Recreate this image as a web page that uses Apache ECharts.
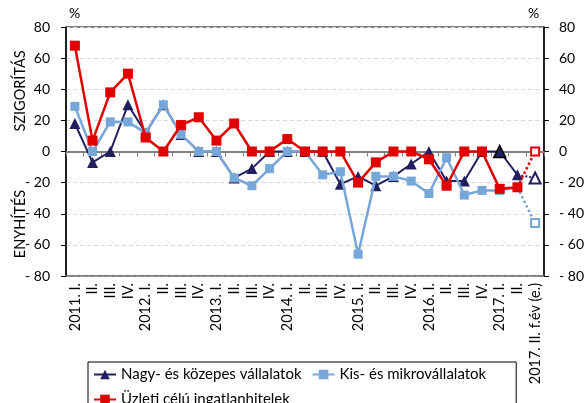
<!DOCTYPE html>
<html>
<head>
<meta charset="utf-8">
<script src="https://cdn.jsdelivr.net/npm/echarts@6/dist/echarts.min.js"></script>
<style>
html,body{margin:0;padding:0;background:#fff;}
#chart{width:587px;height:403px;}
</style>
</head>
<body>
<div id="chart"></div>
<script>
const categories = ['2011. I.', 'II.', 'III.', 'IV.', '2012. I.', 'II.', 'III.', 'IV.', '2013. I.', 'II.', 'III.', 'IV.', '2014. I.', 'II.', 'III.', 'IV.', '2015. I.', 'II.', 'III.', 'IV.', '2016. I.', 'II.', 'III.', 'IV.', '2017. I.', 'II.', '2017. II. f.év (e.)'];
const seriesNames = ['Nagy- és közepes vállalatok', 'Kis- és mikrovállalatok', 'Üzleti célú ingatlanhitelek'];
const navy = [18, -7, 0, 30, 12, 30, 11, 0, 0, -17, -11, 0, 0, 0, 0, -21, -16, -22, -16, -8, 0, -19, -19, 0, 0, -15];
const lightBlue = [29, 0, 19, 19, 12, 30, 11, 0, 0, -17, -22, -11, 0, 0, -15, -13, -66, -16, -16, -19, -27, -4, -28, -25, -25, -23];
const red = [68, 7, 38, 50, 9, 0, 17, 22, 7, 18, 0, 0, 8, 0, 0, 0, -20, -7, 0, 0, -5, -22, 0, 0, -24, -23];
const forecast = { navy: -17, lightBlue: -46, red: 0 };
const yTicks = { min: -80, max: 80, interval: 20 };

const FONT = 'Lato';
const C_NAVY = '#221f5f', C_LB = '#77a6d9', C_RED = '#e00000';

function fcData(arr, f) {
  const d = categories.map(() => null);
  d[arr.length - 1] = { value: arr[arr.length - 1], symbol: 'none' };
  d[arr.length] = f;
  return d;
}
function yLabel(v) { return v < 0 ? '- ' + Math.abs(v) : String(v); }

const chart = echarts.init(document.getElementById('chart'));
const navyData = navy.map((v, i) => i === 24 ? { value: v, itemStyle: { borderColor: '#000', borderWidth: 1.5 }, symbolSize: 12 } : v);

chart.setOption({
  animation: false,
  textStyle: { fontFamily: FONT },
  grid: { left: 66, right: 41, top: 27, height: 249, show: true, borderColor: '#000', borderWidth: 1, backgroundColor: 'transparent' },
  graphic: [
    { type: 'text', left: 69, top: 6, style: { text: '%', fontFamily: FONT, fontSize: 14, fill: '#000' } },
    { type: 'text', left: 528, top: 6, style: { text: '%', fontFamily: FONT, fontSize: 14, fill: '#000' } },
    { type: 'text', x: 20, y: 91, rotation: Math.PI / 2, style: { text: 'SZIGORÍTÁS', fontFamily: FONT, fontSize: 14.5, fill: '#000', align: 'center', verticalAlign: 'middle' } },
    { type: 'text', x: 20, y: 224, rotation: Math.PI / 2, style: { text: 'ENYHÍTÉS', fontFamily: FONT, fontSize: 14.5, fill: '#000', align: 'center', verticalAlign: 'middle' } }
  ],
  legend: {
    data: seriesNames,
    left: 88, top: 362, width: 420,
    padding: [5, 30, 5, 5],
    itemGap: 10, itemWidth: 22, itemHeight: 12,
    borderColor: '#000', borderWidth: 1,
    textStyle: { fontFamily: FONT, fontSize: 15, color: '#000' }
  },
  xAxis: [
    {
      type: 'category', data: categories, position: 'bottom', boundaryGap: true,
      axisLine: { onZero: false, lineStyle: { color: '#808080', width: 1.5 } },
      axisTick: { show: false },
      axisLabel: { interval: 0, rotate: 90, margin: 7, fontFamily: FONT, fontSize: 14.5, color: '#000' }
    },
    {
      type: 'category', data: categories, position: 'top', boundaryGap: true,
      axisLine: { onZero: true, onZeroAxisIndex: 0, lineStyle: { color: '#808080', width: 2 } },
      axisTick: { show: true, inside: true, length: 5, interval: 0, lineStyle: { color: '#808080', width: 1 } },
      axisLabel: { show: false }
    }
  ],
  yAxis: [
    {
      type: 'value', position: 'left', min: yTicks.min, max: yTicks.max, interval: yTicks.interval,
      axisLine: { show: true, lineStyle: { color: '#000', width: 1.5 } },
      axisTick: { show: true, length: 5, lineStyle: { color: '#000' } },
      axisLabel: { margin: 16, formatter: yLabel, fontFamily: FONT, fontSize: 14, color: '#000' },
      splitLine: { show: true, lineStyle: { color: '#d9d9d9', type: [4, 3], width: 1 } }
    },
    {
      type: 'value', position: 'right', min: yTicks.min, max: yTicks.max, interval: yTicks.interval,
      axisLine: { show: true, lineStyle: { color: '#000', width: 1.5 } },
      axisTick: { show: true, length: 5, lineStyle: { color: '#000' } },
      axisLabel: { margin: 15, formatter: yLabel, fontFamily: FONT, fontSize: 14, color: '#000' },
      splitLine: { show: false }
    }
  ],
  series: [
    { name: seriesNames[0], type: 'line', data: navyData, symbol: 'triangle', symbolSize: 11,
      itemStyle: { color: C_NAVY }, lineStyle: { color: C_NAVY, width: 2 }, z: 2 },
    { name: seriesNames[1], type: 'line', data: lightBlue, symbol: 'rect', symbolSize: 9,
      itemStyle: { color: C_LB }, lineStyle: { color: C_LB, width: 2.5 }, z: 3 },
    { name: seriesNames[2], type: 'line', data: red, symbol: 'rect', symbolSize: 10,
      itemStyle: { color: C_RED }, lineStyle: { color: C_RED, width: 2.5 }, z: 4 },
    { name: 'navy-f', type: 'line', data: fcData(navy, forecast.navy), connectNulls: false, symbol: 'triangle', symbolSize: 11,
      itemStyle: { color: '#fff', borderColor: C_NAVY, borderWidth: 2 }, lineStyle: { color: C_NAVY, width: 2, type: 'dotted' }, z: 2 },
    { name: 'lb-f', type: 'line', data: fcData(lightBlue, forecast.lightBlue), symbol: 'rect', symbolSize: 8,
      itemStyle: { color: '#fff', borderColor: C_LB, borderWidth: 2 }, lineStyle: { color: C_LB, width: 2.5, type: 'dotted' }, z: 3 },
    { name: 'red-f', type: 'line', data: fcData(red, forecast.red), symbol: 'rect', symbolSize: 8,
      itemStyle: { color: '#fff', borderColor: C_RED, borderWidth: 2 }, lineStyle: { color: C_RED, width: 2.5, type: 'dotted' }, z: 4 }
  ]
});
</script>
</body>
</html>
